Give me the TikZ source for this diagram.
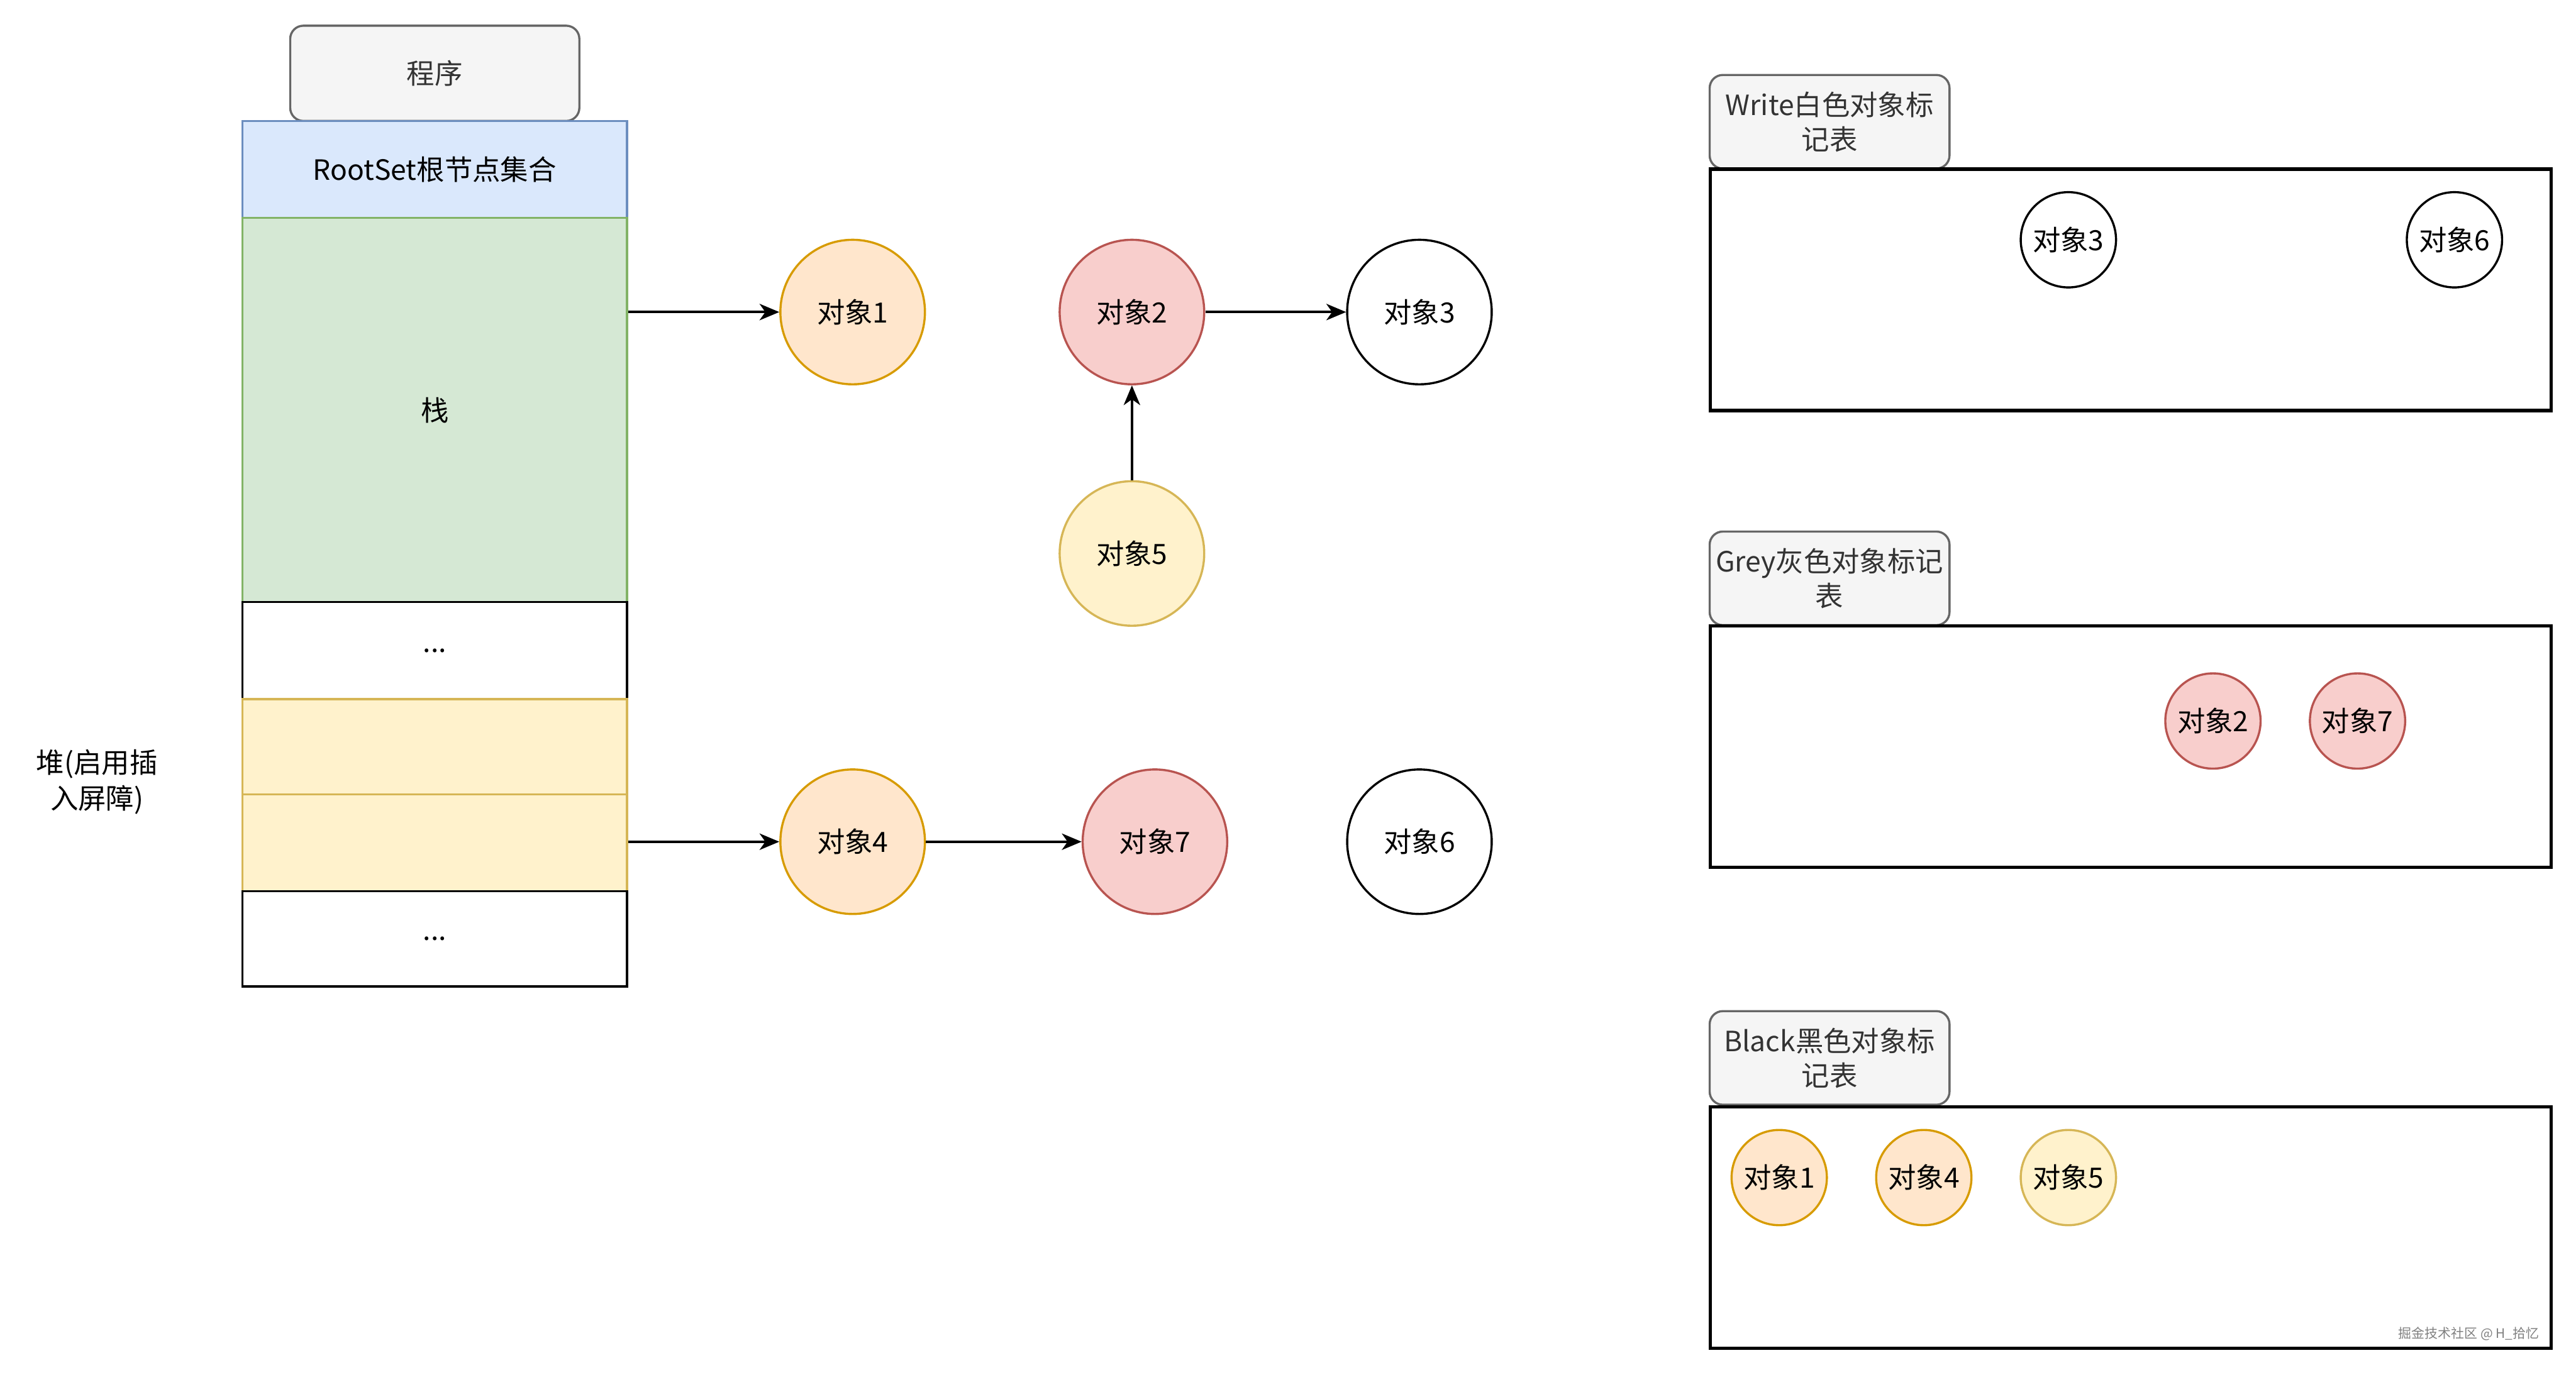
\documentclass[tikz,border=0pt]{standalone}
\usepackage{fontspec}
\setmainfont{Noto Sans CJK SC}
\usetikzlibrary{arrows.meta}
\definecolor{lblfill}{HTML}{F5F5F5}
\definecolor{lbldraw}{HTML}{666666}
\definecolor{lbltext}{HTML}{333333}
\definecolor{bluefill}{HTML}{DAE8FC}
\definecolor{bluedraw}{HTML}{6C8EBF}
\definecolor{greenfill}{HTML}{D5E8D4}
\definecolor{greendraw}{HTML}{82B366}
\definecolor{yelfill}{HTML}{FFF2CC}
\definecolor{yeldraw}{HTML}{D6B656}
\definecolor{orgfill}{HTML}{FFE6CC}
\definecolor{orgdraw}{HTML}{D79B00}
\definecolor{redfill}{HTML}{F8CECC}
\definecolor{reddraw}{HTML}{B85450}
\tikzset{
  lbl/.style={draw=lbldraw, fill=lblfill, text=lbltext, rounded corners=8pt, line width=1.3pt,
    align=center, anchor=north west, minimum width=146pt, minimum height=57pt, inner sep=0pt, font=\fontsize{17}{21}\selectfont},
  seg/.style={anchor=north west, minimum width=234pt, inner sep=0pt, line width=1.3pt, font=\fontsize{17}{21}\selectfont},
  obj/.style={circle, minimum size=88pt, inner sep=0pt, line width=1.3pt, font=\fontsize{17}{21}\selectfont},
  sobj/.style={circle, minimum size=58pt, inner sep=0pt, line width=1.3pt, font=\fontsize{17}{21}\selectfont},
  orgobj/.style={fill=orgfill, draw=orgdraw},
  redobj/.style={fill=redfill, draw=reddraw},
  yelobj/.style={fill=yelfill, draw=yeldraw},
  whtobj/.style={fill=white, draw=black},
  table/.style={draw=black, line width=2pt, anchor=north west, minimum width=512pt, minimum height=147pt, inner sep=0pt},
  arr/.style={-{Stealth[length=12pt, width=10pt, inset=3.5pt]}, line width=1.4pt}
}
\begin{document}
\begin{tikzpicture}[x=1pt,y=-1pt]
\useasboundingbox (0,0) rectangle (1568,837);
% left stack
\node[lbl, minimum width=176pt, minimum height=58pt] (prog) at (176,15) {程序};
\node[seg, fill=bluefill, draw=bluedraw, minimum height=59pt] (root) at (147,73) {RootSet根节点集合};
\node[seg, fill=greenfill, draw=greendraw, minimum height=234pt] (stack) at (147,132) {栈};
\node[seg, fill=white, draw=black, minimum height=59pt] (dots1) at (147,366) {...};
\node[seg, fill=yelfill, draw=yeldraw, minimum height=58pt] (heap1) at (147,425) {};
\node[seg, fill=yelfill, draw=yeldraw, minimum height=59pt] (heap2) at (147,483) {};
\node[seg, fill=white, draw=black, minimum height=58pt] (dots2) at (147,542) {...};
\node[align=center, font=\fontsize{17}{22}\selectfont] (heaplbl) at (59,476) {堆(启用插\\入屏障)};
% objects
\node[obj, orgobj] (o1) at (519,190) {对象1};
\node[obj, redobj] (o2) at (689,190) {对象2};
\node[obj, whtobj] (o3) at (864,190) {对象3};
\node[obj, yelobj] (o5) at (689,337) {对象5};
\node[obj, orgobj] (o4) at (519,512.5) {对象4};
\node[obj, redobj] (o7) at (703,512.5) {对象7};
\node[obj, whtobj] (o6) at (864,512.5) {对象6};
% connectors
\draw[arr] (stack.east |- o1.west) -- (o1.west);
\draw[arr] (o2) -- (o3);
\draw[arr] (o5) -- (o2);
\draw[arr] (heap2.east |- o4.west) -- (o4.west);
\draw[arr] (o4) -- (o7);
% right tables
\node[lbl] (wlbl) at (1040,45) {Write白色对象标\\记表};
\node[table] (wtab) at (1040,102) {};
\node[sobj, whtobj] (w3) at (1259,146) {对象3};
\node[sobj, whtobj] (w6) at (1494,146) {对象6};
\node[lbl] (glbl) at (1040,323) {Grey灰色对象标记\\表};
\node[table] (gtab) at (1040,380) {};
\node[sobj, redobj] (g2) at (1347,439) {对象2};
\node[sobj, redobj] (g7) at (1435,439) {对象7};
\node[lbl] (blbl) at (1040,615) {Black黑色对象标\\记表};
\node[table] (btab) at (1040,673) {};
\node[sobj, orgobj] (b1) at (1083,717) {对象1};
\node[sobj, orgobj] (b4) at (1171,717) {对象4};
\node[sobj, yelobj] (b5) at (1259,717) {对象5};
% watermark
\node[anchor=east, text=gray, font=\fontsize{8}{10}\selectfont] (wm) at (1549,812) {掘金技术社区 @ H\_拾忆};
\end{tikzpicture}
\end{document}
